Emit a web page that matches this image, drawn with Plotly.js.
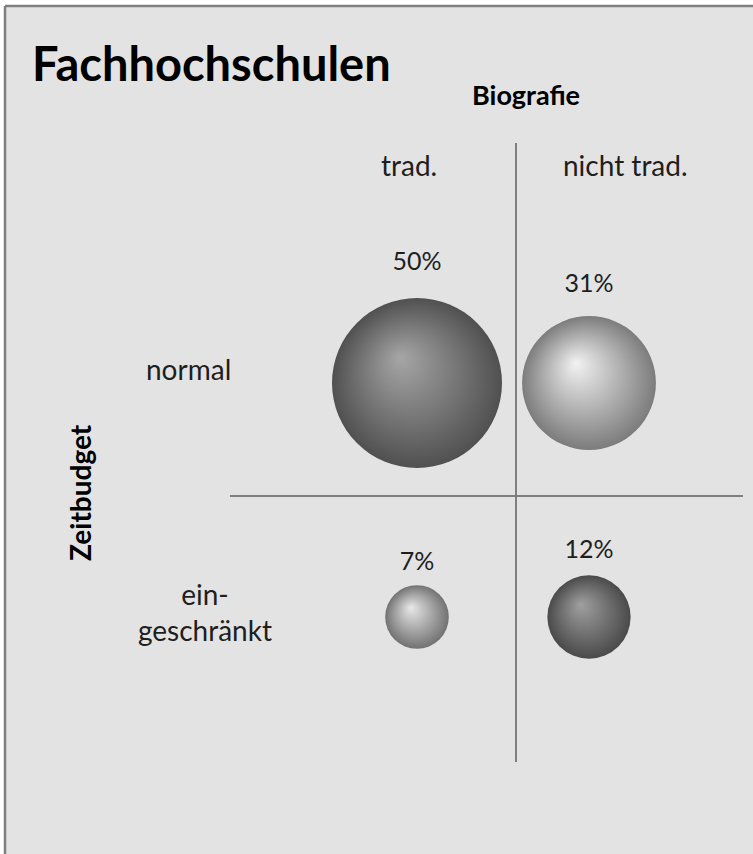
<!DOCTYPE html>
<html>
<head>
<meta charset="utf-8">
<script src="https://cdn.plot.ly/plotly-3.0.1.min.js"></script>
<style>html,body{margin:0;padding:0;background:#fff;}#chart{width:753px;height:854px;}</style>
</head>
<body>
<div id="chart"></div>
<script>
// ---- data ----
const chartTitle = 'Fachhochschulen';
const colTitle = 'Biografie';
const rowTitle = 'Zeitbudget';
const biografie = ['trad.', 'nicht trad.'];
const zeitbudget = ['eingeschränkt', 'normal'];
const zeitbudgetLabels = ['ein-<br>geschränkt', 'normal'];
const pointBiografie = ['trad.', 'nicht trad.', 'trad.', 'nicht trad.'];
const pointZeitbudget = ['normal', 'normal', 'eingeschränkt', 'eingeschränkt'];
const shares = [50, 31, 7, 12];
const edgeColors = ['#505050', '#7c7c7c', '#727272', '#4a4a4a'];
const centerColors = ['#a6a6a6', '#f2f2f2', '#e8e8e8', '#a0a0a0'];

const W = 753, H = 854;
const font = 'Lato, "Open Sans", sans-serif';
const txt = '#1e1e1e';
const lineCol = '#7f7f7f';

const maxDiam = 170;
const trace = {
  type: 'scatter', mode: 'markers+text',
  x: pointBiografie, y: pointZeitbudget,
  text: shares.map(v => v + '%'),
  textposition: 'top center',
  textfont: {family: font, size: 25, color: txt},
  marker: {
    size: shares, sizemode: 'area',
    sizeref: 2 * Math.max(...shares) / (maxDiam * maxDiam),
    color: edgeColors, opacity: 1,
    gradient: {type: 'radial', color: centerColors},
    line: {width: 0}
  },
  hoverinfo: 'skip', cliponaxis: false, showlegend: false
};

const layout = {
  width: W, height: H,
  margin: {l: 0, r: 0, t: 0, b: 0},
  paper_bgcolor: '#ffffff', plot_bgcolor: 'rgba(0,0,0,0)',
  showlegend: false,
  xaxis: {type: 'category', categoryarray: biografie, categoryorder: 'array',
          range: [-0.5, 1.5], domain: [331 / W, 675 / W],
          showgrid: false, zeroline: false, showticklabels: false, showline: false, ticks: '', fixedrange: true},
  yaxis: {type: 'category', categoryarray: zeitbudget, categoryorder: 'array',
          range: [-0.5, 1.5], domain: [(H - 734) / H, (H - 266) / H],
          showgrid: false, zeroline: false, showticklabels: false, showline: false, ticks: '', fixedrange: true},
  shapes: [
    {type: 'rect', xref: 'paper', yref: 'paper', x0: 5 / W, x1: 1.01, y0: -0.01, y1: 1 - 6 / H,
     fillcolor: '#e3e3e3', line: {width: 0}, layer: 'below'},
    {type: 'line', xref: 'paper', yref: 'paper', x0: 5 / W, x1: 1.01, y0: 1 - 6 / H, y1: 1 - 6 / H,
     line: {color: lineCol, width: 2.5}},
    {type: 'line', xref: 'paper', yref: 'paper', x0: 5 / W, x1: 5 / W, y0: -0.01, y1: 1 - 6 / H,
     line: {color: lineCol, width: 2.5}},
    {type: 'line', xref: 'paper', yref: 'paper', x0: 516 / W, x1: 516 / W, y0: 1 - 143 / H, y1: 1 - 762 / H,
     line: {color: lineCol, width: 2}},
    {type: 'line', xref: 'paper', yref: 'paper', x0: 230 / W, x1: 743 / W, y0: 1 - 496 / H, y1: 1 - 496 / H,
     line: {color: lineCol, width: 2}}
  ],
  annotations: [
    {text: '<b>' + chartTitle + '</b>', xref: 'paper', yref: 'paper', x: 30 / W, y: 1 - 63 / H,
     xanchor: 'left', yanchor: 'middle', showarrow: false, font: {family: font, size: 47, color: '#000'}},
    {text: '<b>' + colTitle + '</b>', xref: 'paper', yref: 'paper', x: 526 / W, y: 1 - 94 / H,
     xanchor: 'center', yanchor: 'middle', showarrow: false, font: {family: font, size: 27, color: '#000'}},
    {text: '<b>' + rowTitle + '</b>', xref: 'paper', yref: 'paper', x: 80 / W, y: 1 - 493 / H, textangle: -90,
     xanchor: 'center', yanchor: 'middle', showarrow: false, font: {family: font, size: 28, color: '#000'}},
    {text: biografie[0], xref: 'x', yref: 'paper', x: biografie[0], y: 1 - 165 / H, xshift: -8,
     xanchor: 'center', yanchor: 'middle', showarrow: false, font: {family: font, size: 28, color: txt}},
    {text: biografie[1], xref: 'x', yref: 'paper', x: biografie[1], y: 1 - 165 / H, xshift: 36,
     xanchor: 'center', yanchor: 'middle', showarrow: false, font: {family: font, size: 28, color: txt}},
    {text: zeitbudgetLabels[1], xref: 'paper', yref: 'y', x: 188 / W, y: zeitbudget[1], yshift: 14,
     xanchor: 'center', yanchor: 'middle', showarrow: false, font: {family: font, size: 28, color: txt}},
    {text: zeitbudgetLabels[0], xref: 'paper', yref: 'y', x: 205 / W, y: zeitbudget[0], yshift: 5,
     xanchor: 'center', yanchor: 'middle', align: 'center', showarrow: false, font: {family: font, size: 28, color: txt}}
  ]
};

Plotly.newPlot('chart', [trace], layout, {staticPlot: true, displayModeBar: false}).then(function () {
  document.querySelectorAll('#chart radialGradient').forEach(function (g) {
    g.setAttribute('fx', '0.4');
    g.setAttribute('fy', '0.35');
  });
});
</script>
</body>
</html>
